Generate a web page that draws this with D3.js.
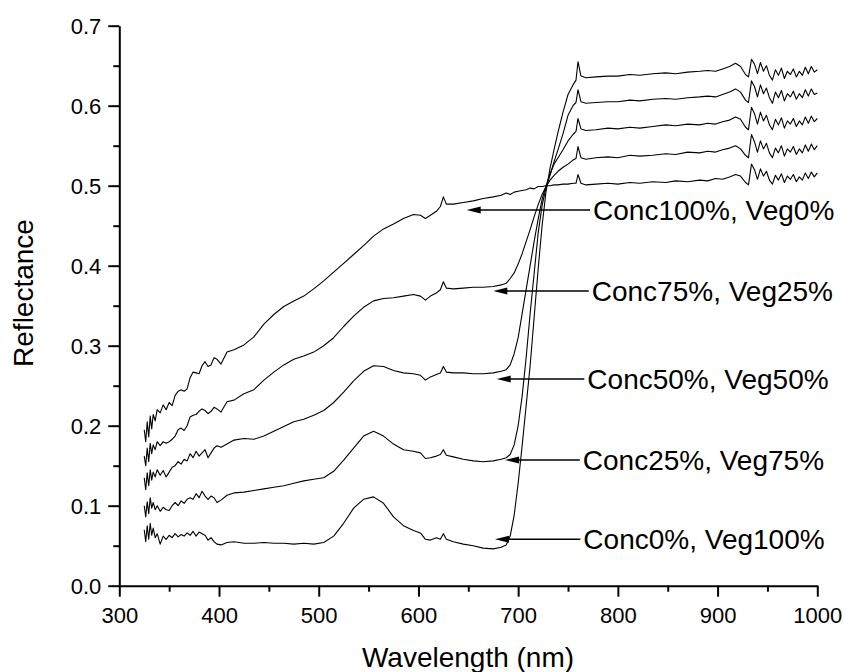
<!DOCTYPE html>
<html>
<head>
<meta charset="utf-8">
<script src="https://cdn.jsdelivr.net/npm/d3@7"></script>
<style>
  body { margin: 0; background: #fff; }
  svg { display: block; }
  text { font-family: "Liberation Sans", Arial, Helvetica, sans-serif; fill: #000; }
</style>
</head>
<body>
<svg id="chart" width="845" height="672"></svg>
<script>
// Wavelength grid (nm) shared by all spectra
const wavelengths = [
  325, 326.5, 328, 329.5, 331, 332.5, 334, 336, 338, 341,
  344, 347, 350, 353, 356, 359, 362, 365, 368, 371,
  374, 377, 380, 383, 386, 389, 392, 395, 398, 402,
  408, 415, 425, 435, 445, 455, 465, 475, 485, 495,
  505, 515, 525, 535, 545, 555, 565, 575, 585, 595,
  602, 607, 612, 618, 622, 625, 628, 635, 645, 655,
  665, 675, 683, 688, 692, 696, 700, 704, 708, 712,
  716, 720, 724, 728, 732, 736, 740, 745, 750, 755,
  758, 760, 763, 768, 778, 790, 800, 812, 822, 835,
  848, 858, 870, 882, 890, 898, 905, 912, 918, 923,
  928, 931, 934, 937, 940, 943, 946, 949, 952, 955,
  958, 961, 964, 967, 970, 973, 976, 979, 982, 985,
  988, 991, 994, 997, 1000
];

// Reflectance spectra of concrete / vegetation mixtures
const conc100 = [
  0.195, 0.180, 0.205, 0.186, 0.212, 0.196, 0.214, 0.206, 0.220, 0.216,
  0.226, 0.220, 0.229, 0.225, 0.238, 0.243, 0.245, 0.243, 0.246, 0.260,
  0.267, 0.266, 0.265, 0.275, 0.280, 0.274, 0.276, 0.285, 0.283, 0.277,
  0.292, 0.295, 0.301, 0.311, 0.327, 0.339, 0.349, 0.356, 0.362, 0.371,
  0.381, 0.392, 0.403, 0.414, 0.425, 0.437, 0.446, 0.452, 0.459, 0.464,
  0.463, 0.459, 0.463, 0.468, 0.474, 0.486, 0.477, 0.477, 0.479, 0.481,
  0.484, 0.486, 0.488, 0.491, 0.489, 0.492, 0.493, 0.494, 0.495, 0.497,
  0.496, 0.499, 0.499, 0.500, 0.500, 0.501, 0.501, 0.502, 0.502, 0.503,
  0.503, 0.514, 0.503, 0.501, 0.502, 0.503, 0.502, 0.504, 0.503, 0.505,
  0.504, 0.506, 0.505, 0.507, 0.506, 0.509, 0.508, 0.511, 0.514, 0.512,
  0.504, 0.501, 0.527, 0.520, 0.508, 0.521, 0.512, 0.518, 0.507, 0.502,
  0.513, 0.507, 0.515, 0.504, 0.512, 0.508, 0.514, 0.505, 0.511, 0.507,
  0.516, 0.509, 0.517, 0.511, 0.516
];
const conc75 = [
  0.162, 0.150, 0.172, 0.155, 0.178, 0.165, 0.176, 0.170, 0.180, 0.175,
  0.180, 0.178, 0.180, 0.183, 0.187, 0.195, 0.197, 0.194, 0.200, 0.211,
  0.213, 0.214, 0.218, 0.221, 0.219, 0.215, 0.218, 0.223, 0.221, 0.217,
  0.230, 0.232, 0.240, 0.245, 0.257, 0.267, 0.276, 0.283, 0.287, 0.292,
  0.300, 0.310, 0.324, 0.337, 0.348, 0.356, 0.359, 0.360, 0.362, 0.364,
  0.362, 0.357, 0.362, 0.366, 0.370, 0.380, 0.372, 0.371, 0.372, 0.373,
  0.373, 0.374, 0.376, 0.378, 0.384, 0.391, 0.402, 0.415, 0.430, 0.445,
  0.461, 0.476, 0.489, 0.499, 0.507, 0.513, 0.518, 0.523, 0.527, 0.532,
  0.534, 0.549, 0.535, 0.533, 0.535, 0.536, 0.535, 0.538, 0.537, 0.538,
  0.540, 0.539, 0.542, 0.541, 0.543, 0.542, 0.545, 0.547, 0.550, 0.546,
  0.538, 0.535, 0.564, 0.555, 0.542, 0.556, 0.546, 0.553, 0.541, 0.535,
  0.547, 0.541, 0.550, 0.537, 0.546, 0.542, 0.549, 0.539, 0.546, 0.541,
  0.551, 0.543, 0.552, 0.545, 0.550
];
const conc50 = [
  0.135, 0.120, 0.141, 0.125, 0.145, 0.132, 0.142, 0.136, 0.145, 0.138,
  0.144, 0.136, 0.142, 0.148, 0.150, 0.155, 0.152, 0.158, 0.156, 0.165,
  0.160, 0.168, 0.162, 0.166, 0.170, 0.160, 0.166, 0.172, 0.175, 0.173,
  0.177, 0.182, 0.184, 0.183, 0.187, 0.193, 0.199, 0.205, 0.208, 0.213,
  0.219, 0.229, 0.242, 0.256, 0.268, 0.275, 0.274, 0.269, 0.266, 0.265,
  0.263, 0.257, 0.261, 0.264, 0.266, 0.274, 0.267, 0.266, 0.266, 0.265,
  0.265, 0.266, 0.268, 0.270, 0.276, 0.290, 0.310, 0.340, 0.370, 0.400,
  0.430, 0.458, 0.483, 0.500, 0.515, 0.527, 0.535, 0.545, 0.556, 0.564,
  0.568, 0.584, 0.571, 0.569, 0.570, 0.572, 0.571, 0.573, 0.572, 0.574,
  0.576, 0.575, 0.577, 0.576, 0.578, 0.577, 0.580, 0.582, 0.586, 0.583,
  0.573, 0.570, 0.598, 0.590, 0.577, 0.592, 0.581, 0.588, 0.576, 0.570,
  0.583, 0.576, 0.585, 0.572, 0.581, 0.577, 0.584, 0.574, 0.581, 0.576,
  0.586, 0.578, 0.587, 0.580, 0.584
];
const conc25 = [
  0.100, 0.086, 0.105, 0.090, 0.110, 0.097, 0.104, 0.095, 0.100, 0.093,
  0.098, 0.095, 0.094, 0.100, 0.104, 0.100, 0.106, 0.103, 0.108, 0.110,
  0.108, 0.115, 0.110, 0.118, 0.112, 0.108, 0.112, 0.110, 0.104, 0.107,
  0.113, 0.116, 0.117, 0.119, 0.121, 0.123, 0.125, 0.128, 0.131, 0.133,
  0.135, 0.143, 0.157, 0.172, 0.187, 0.193, 0.187, 0.177, 0.170, 0.168,
  0.166, 0.159, 0.160, 0.162, 0.164, 0.170, 0.163, 0.161, 0.158, 0.156,
  0.155, 0.156, 0.158, 0.160, 0.164, 0.176, 0.200, 0.237, 0.285, 0.340,
  0.390, 0.440, 0.475, 0.498, 0.513, 0.530, 0.545, 0.565, 0.588, 0.600,
  0.604, 0.620, 0.605, 0.603, 0.604, 0.605, 0.605, 0.607, 0.606, 0.608,
  0.609, 0.608, 0.610, 0.611, 0.612, 0.611, 0.614, 0.617, 0.621, 0.617,
  0.607, 0.604, 0.631, 0.624, 0.611, 0.626, 0.615, 0.622, 0.610, 0.603,
  0.617, 0.610, 0.619, 0.606, 0.615, 0.611, 0.618, 0.608, 0.615, 0.610,
  0.620, 0.612, 0.621, 0.614, 0.616
];
const conc0 = [
  0.070, 0.055, 0.075, 0.058, 0.078, 0.063, 0.072, 0.060, 0.065, 0.052,
  0.062, 0.058, 0.063, 0.060, 0.065, 0.061, 0.064, 0.062, 0.066, 0.063,
  0.068, 0.062, 0.067, 0.065, 0.063, 0.057, 0.060, 0.055, 0.052, 0.051,
  0.054, 0.055, 0.053, 0.053, 0.054, 0.053, 0.053, 0.052, 0.053, 0.052,
  0.054, 0.062, 0.078, 0.097, 0.108, 0.111, 0.103, 0.086, 0.075, 0.069,
  0.066, 0.058, 0.057, 0.060, 0.058, 0.065, 0.058, 0.055, 0.052, 0.050,
  0.047, 0.046, 0.048, 0.051, 0.062, 0.088, 0.128, 0.175, 0.225, 0.275,
  0.335, 0.395, 0.450, 0.493, 0.522, 0.545, 0.567, 0.592, 0.614, 0.626,
  0.632, 0.655, 0.637, 0.635, 0.636, 0.637, 0.637, 0.639, 0.638, 0.640,
  0.641, 0.640, 0.642, 0.643, 0.644, 0.643, 0.646, 0.649, 0.653, 0.649,
  0.639, 0.636, 0.658, 0.652, 0.640, 0.654, 0.643, 0.650, 0.638, 0.632,
  0.645, 0.638, 0.647, 0.634, 0.643, 0.639, 0.646, 0.636, 0.643, 0.638,
  0.648, 0.640, 0.649, 0.642, 0.645
];

const seriesNames = ["Conc100%, Veg0%", "Conc75%, Veg25%", "Conc50%, Veg50%", "Conc25%, Veg75%", "Conc0%, Veg100%"];

// Arrow annotations: where each arrow points, and where its label starts
const arrowTipWavelength = [648.4, 675.1, 678.5, 686.9, 676.8];
const arrowTipReflectance = [0.4696, 0.3684, 0.2584, 0.1571, 0.058];
const labelStartWavelength = [775.1, 773.8, 769.4, 764.8, 765.4];

const xTicks = [300, 400, 500, 600, 700, 800, 900, 1000];
const xMinorTicks = [350, 450, 550, 650, 750, 850, 950];
const yTicks = [0.0, 0.1, 0.2, 0.3, 0.4, 0.5, 0.6, 0.7];
const yMinorTicks = [0.05, 0.15, 0.25, 0.35, 0.45, 0.55, 0.65];

const svg = d3.select("#chart");

const x = d3.scaleLinear().domain([300, 1000]).range([119.3, 817.3]);
const y = d3.scaleLinear().domain([0, 0.7]).range([585.7, 25.7]);

// Spectra
const allSeries = [conc100, conc75, conc50, conc25, conc0];
const line = d3.line()
  .x((d, i) => x(wavelengths[i]))
  .y(d => y(d));

svg.append("g")
  .selectAll("path")
  .data(allSeries)
  .join("path")
  .attr("d", line)
  .attr("fill", "none")
  .attr("stroke", "#000")
  .attr("stroke-width", 1.1)
  .attr("stroke-linejoin", "round");

// Axes
const tickFont = "22px";
const xAxisG = svg.append("g").attr("transform", `translate(0,${y(0)})`);
xAxisG.call(d3.axisBottom(x).tickValues(xTicks).tickSize(11).tickSizeOuter(0)
  .tickPadding(11).tickFormat(d3.format("d")));
xAxisG.append("g").call(d3.axisBottom(x).tickValues(xMinorTicks).tickSize(6)
  .tickSizeOuter(0).tickFormat(""))
  .select(".domain").remove();

const yAxisG = svg.append("g").attr("transform", `translate(${x(300)},0)`);
yAxisG.call(d3.axisLeft(y).tickValues(yTicks).tickSize(11).tickSizeOuter(0)
  .tickPadding(7).tickFormat(d3.format(".1f")));
yAxisG.append("g").call(d3.axisLeft(y).tickValues(yMinorTicks).tickSize(6)
  .tickSizeOuter(0).tickFormat(""))
  .select(".domain").remove();

svg.selectAll(".domain").attr("stroke", "#000").attr("stroke-width", 2);
svg.selectAll(".tick line").attr("stroke", "#000").attr("stroke-width", 2);
svg.selectAll(".tick text")
  .style("font-size", tickFont)
  .style("font-family", "'Liberation Sans', Arial, sans-serif")
  .attr("fill", "#000");
yAxisG.selectAll(".tick text").attr("dy", "0.36em");

// Axis titles
svg.append("text")
  .attr("x", 468).attr("y", 667)
  .attr("text-anchor", "middle")
  .style("font-size", "28px")
  .text("Wavelength (nm)");

svg.append("text")
  .attr("transform", "translate(32.5,293) rotate(-90)")
  .attr("text-anchor", "middle")
  .style("font-size", "28px")
  .text("Reflectance");

// Arrow annotations
const ann = svg.append("g");
seriesNames.forEach((name, i) => {
  const tx = x(arrowTipWavelength[i]);
  const ty = y(arrowTipReflectance[i]);
  const lx = x(labelStartWavelength[i]);
  ann.append("line")
    .attr("x1", tx + 10).attr("y1", ty)
    .attr("x2", lx - 3).attr("y2", ty)
    .attr("stroke", "#000").attr("stroke-width", 1.5);
  ann.append("path")
    .attr("d", `M${tx},${ty} L${tx + 14},${ty - 3.5} L${tx + 14},${ty + 3.5} Z`)
    .attr("fill", "#000");
  ann.append("text")
    .attr("x", lx).attr("y", ty)
    .attr("dy", "0.36em")
    .style("font-size", "28px")
    .text(name);
});
</script>
</body>
</html>
